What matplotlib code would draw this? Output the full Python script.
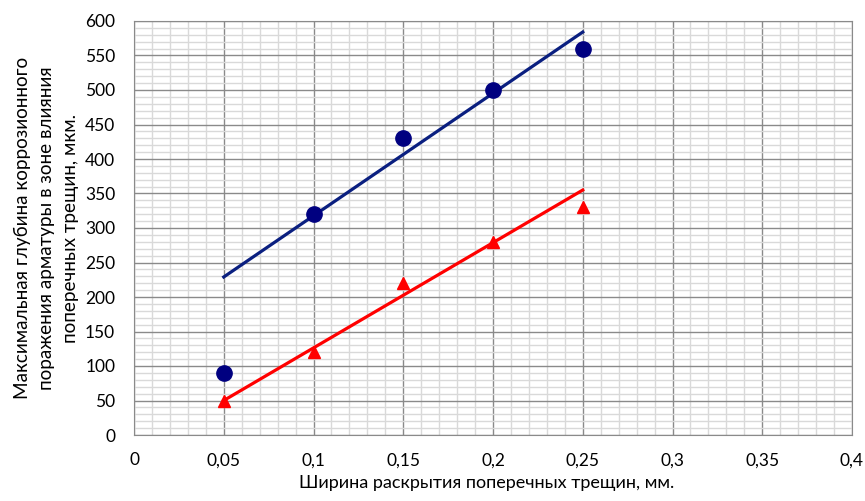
import matplotlib.pyplot as plt
from matplotlib.ticker import MultipleLocator, FuncFormatter

plt.rcParams['font.family'] = ['Lato', 'DejaVu Sans']

# crack width, mm
width = [0.05, 0.1, 0.15, 0.2, 0.25]
# max corrosion depth, um
depth_circle = [90, 320, 430, 500, 560]
depth_triangle = [50, 120, 220, 280, 330]

# trend lines (end points)
trend_x = [0.05, 0.25]
trend_circle = [229, 584]
trend_triangle = [50, 355]

W, H = 865, 501
fig = plt.figure(figsize=(W / 100, H / 100), dpi=100)
ax = fig.add_axes([134 / W, 66 / H, 718 / W, 414 / H])

ax.plot(trend_x, trend_circle, color='#0a1f80', linewidth=2.3, zorder=3)
ax.plot(trend_x, trend_triangle, color='#ff0000', linewidth=2.3, zorder=3)
ax.plot(width, depth_circle, 'o', color='#000080', markersize=11, zorder=4)
ax.plot(width, depth_triangle, '^', color='#ff0000', markersize=9, zorder=4)

ax.set_xlim(0, 0.4)
ax.set_ylim(0, 600)
ax.xaxis.set_major_locator(MultipleLocator(0.05))
ax.xaxis.set_minor_locator(MultipleLocator(0.01))
ax.yaxis.set_major_locator(MultipleLocator(50))
ax.yaxis.set_minor_locator(MultipleLocator(10))
ax.xaxis.set_major_formatter(FuncFormatter(lambda v, p: ('%g' % round(v, 2)).replace('.', ',')))

ax.grid(which='major', color='#8a8a8a', linewidth=1.0)
ax.grid(which='minor', color='#d9d9d9', linewidth=1.0)
ax.set_axisbelow(True)
for s in ax.spines.values():
    s.set_color('#8a8a8a')
ax.tick_params(which='both', length=0)
ax.tick_params(axis='x', pad=12.5, labelsize=12.5, labelcolor='black')
ax.tick_params(axis='y', pad=13.5, labelsize=12.5, labelcolor='black')

fig.text(487 / W, 13 / H, 'Ширина раскрытия поперечных трещин, мм.',
         fontsize=13, ha='center', va='baseline')
fig.text(46 / W, (H - 228) / H,
         'Максимальная глубина коррозионного\n'
         'поражения арматуры в зоне влияния\n'
         'поперечных трещин, мкм.',
         fontsize=13.6, rotation=90, ha='center', va='center',
         multialignment='center', linespacing=1.5)

fig.savefig('out.png', dpi=100)
